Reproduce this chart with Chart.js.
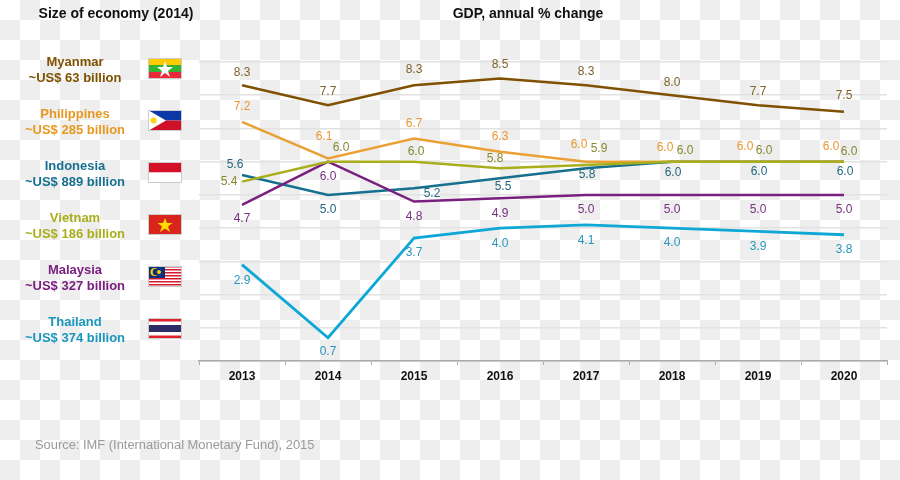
<!DOCTYPE html>
<html>
<head>
<meta charset="utf-8">
<title>GDP, annual % change</title>
<script src="https://cdn.jsdelivr.net/npm/chart.js@4"></script>
<style>
  html, body { margin: 0; padding: 0; }
  body {
    width: 900px; height: 480px; position: relative; overflow: hidden;
    font-family: "Liberation Sans", Arial, sans-serif;
    background-image: repeating-conic-gradient(#eeeeee 0 25%, #ffffff 0 50%);
    background-size: 40px 40px;
  }
  #gdpChart { position: absolute; left: 0; top: 0; }
  .head { position: absolute; top: 5px; font-size: 14px; font-weight: bold; color: #111; text-align: center; white-space: nowrap; }
  .country { position: absolute; left: 0; width: 150px; text-align: center; font-size: 13px; line-height: 15.5px; font-weight: bold; }
  .flag { position: absolute; left: 148px; width: 34px; height: 21px; display: block; }
  .source { position: absolute; left: 35px; top: 437px; font-size: 12.9px; color: #9a9a9a; white-space: nowrap; }
</style>
</head>
<body>
<canvas id="gdpChart" width="900" height="480"></canvas>
<div class="head" style="left:16px;width:200px">Size of economy (2014)</div>
<div class="head" style="left:428px;width:200px">GDP, annual % change</div>
<div id="sizes"></div>
<div class="source">Source: IMF (International Monetary Fund), 2015</div>

<script>
const years = ['2013','2014','2015','2016','2017','2018','2019','2020'];
const countries = ['Myanmar','Philippines','Indonesia','Vietnam','Malaysia','Thailand'];
const sizes = ['~US$ 63 billion','~US$ 285 billion','~US$ 889 billion','~US$ 186 billion','~US$ 327 billion','~US$ 374 billion'];

const myanmar     = [8.3, 7.7, 8.3, 8.5, 8.3, 8.0, 7.7, 7.5];
const philippines = [7.2, 6.1, 6.7, 6.3, 6.0, 6.0, 6.0, 6.0];
const indonesia   = [5.6, 5.0, 5.2, 5.5, 5.8, 6.0, 6.0, 6.0];
const vietnam     = [5.4, 6.0, 6.0, 5.8, 5.9, 6.0, 6.0, 6.0];
const malaysia    = [4.7, 6.0, 4.8, 4.9, 5.0, 5.0, 5.0, 5.0];
const thailand    = [2.9, 0.7, 3.7, 4.0, 4.1, 4.0, 3.9, 3.8];

const lineColors  = ['#7f5100','#e9a136','#15708f','#a9ae1d','#7a1f80','#0fa8d6'];
const nameColors  = ['#7f5100','#e8981f','#15708f','#a9ae1d','#7a1f80','#1a96bd'];
const labelColors = ['#80622c','#e8982f','#22667f','#85882f','#75307e','#2796bd'];

// where each value label sits relative to its point: [dx, dy]
const myanmarLabels     = [[0,-13],[0,-14],[0,-16],[0,-14],[0,-14],[0,-13],[0,-14],[0,-16]];
const philippinesLabels = [[0,-15],[-4,-22],[0,-15],[0,-15],[-7,-17],[-7,-14],[-13,-15],[-13,-15]];
const indonesiaLabels   = [[-7,-10],[0,15],[18,5],[3,8],[1,6],[1,11],[1,10],[1,10]];
const vietnamLabels     = [[-13,0],[13,-14],[2,-10],[-5,-10],[13,-16],[13,-11],[6,-11],[5,-10]];
const malaysiaLabels    = [[0,14],[0,15],[0,15],[0,15],[0,15],[0,15],[0,15],[0,15]];
const thailandLabels    = [[0,16],[0,14],[0,15],[0,16],[0,16],[0,15],[0,15],[0,15]];

const allSeries = [myanmar, philippines, indonesia, vietnam, malaysia, thailand];
const allLabels = [myanmarLabels, philippinesLabels, indonesiaLabels, vietnamLabels, malaysiaLabels, thailandLabels];
const drawOrder = [1, 5, 6, 3, 4, 2]; // higher goes underneath

const flags = [
  '<rect width="34" height="7" fill="#fecb00"/><rect y="7" width="34" height="7" fill="#34b233"/><rect y="14" width="34" height="7" fill="#ea2839"/><polygon points="17,3 19,9 25,9 20,13 22,19 17,15 12,19 14,13 9,9 15,9" fill="#fff"/>',
  '<rect width="34" height="10.5" fill="#0d38a8"/><rect y="10.5" width="34" height="10.5" fill="#ce1126"/><polygon points="0,0 18,10.5 0,21" fill="#fff"/><circle cx="5.5" cy="10.5" r="3" fill="#fcd116"/>',
  '<rect width="34" height="10.5" fill="#d5112a"/><rect y="10.5" width="34" height="10.5" fill="#fff"/>',
  '<rect width="34" height="21" fill="#da251d"/><polygon points="17,4 19,9 24.500,9 20,12.500 22,18 17,14.500 12,18 14,12.500 9.500,9 15,9" fill="#ffdd00"/>',
  '<rect width="34" height="21" fill="#fff"/><rect y="0" width="34" height="1.500" fill="#d8182c"/><rect y="3" width="34" height="1.500" fill="#d8182c"/><rect y="6" width="34" height="1.500" fill="#d8182c"/><rect y="9" width="34" height="1.500" fill="#d8182c"/><rect y="12" width="34" height="1.500" fill="#d8182c"/><rect y="15" width="34" height="1.500" fill="#d8182c"/><rect y="18" width="34" height="1.500" fill="#d8182c"/><rect width="17" height="12" fill="#0a2f7f"/><circle cx="6.500" cy="6" r="4" fill="#ffcc00"/><circle cx="8" cy="6" r="3.300" fill="#0a2f7f"/><circle cx="11" cy="6" r="2" fill="#ffcc00"/>',
  '<rect width="34" height="21" fill="#e1212c"/><rect y="3.500" width="34" height="14" fill="#fff"/><rect y="7" width="34" height="7" fill="#2d2a66"/>'
];

const sizesEl = document.getElementById('sizes');
countries.forEach((name, i) => {
  const top = 54 + i * 52;
  sizesEl.insertAdjacentHTML('beforeend',
    '<div class="country" style="top:' + top + 'px;color:' + nameColors[i] + '">' + name + '<br>' + sizes[i] + '</div>' +
    '<svg class="flag" style="top:' + (top + 4) + 'px" viewBox="0 0 34 21">' + flags[i] +
    '<rect x=".5" y=".5" width="33" height="20" fill="none" stroke="#cccccc"/></svg>');
});

// value labels next to the points
const valueLabels = {
  id: 'valueLabels',
  afterDatasetsDraw(chart) {
    const c = chart.ctx;
    c.save();
    c.font = '12px "Liberation Sans", Arial, sans-serif';
    c.textAlign = 'center';
    c.textBaseline = 'middle';
    chart.data.datasets.forEach((ds, i) => {
      c.fillStyle = labelColors[i];
      chart.getDatasetMeta(i).data.forEach((pt, j) => {
        c.fillText(ds.data[j].toFixed(1), pt.x + allLabels[i][j][0], pt.y + allLabels[i][j][1]);
      });
    });
    c.restore();
  }
};

new Chart(document.getElementById('gdpChart'), {
  type: 'line',
  data: {
    labels: years,
    datasets: countries.map((name, i) => ({
      label: name,
      data: allSeries[i],
      borderColor: lineColors[i],
      borderWidth: i === 5 ? 2.8 : 2.5,
      pointRadius: 0,
      tension: 0,
      order: drawOrder[i]
    }))
  },
  options: {
    responsive: false,
    animation: false,
    layout: { padding: { left: 199, right: 13, top: 62, bottom: 0 } },
    plugins: { legend: { display: false }, tooltip: { enabled: false } },
    scales: {
      x: {
        offset: true,
        afterFit: s => { s.height = 119; },
        grid: { offset: true, drawOnChartArea: false, tickLength: 4, tickColor: '#aaaaaa', tickWidth: 1 },
        border: { color: '#aaaaaa', width: 1.5 },
        ticks: { color: '#111', padding: 4, font: { family: '"Liberation Sans", Arial, sans-serif', size: 12, weight: 'bold' } }
      },
      y: {
        min: 0,
        max: 9,
        afterFit: s => { s.width = 0; },
        ticks: { display: false, stepSize: 1 },
        border: { display: false },
        grid: { color: '#e2e2e2', lineWidth: 1.5, drawTicks: false }
      }
    }
  },
  plugins: [valueLabels]
});
</script>
</body>
</html>
